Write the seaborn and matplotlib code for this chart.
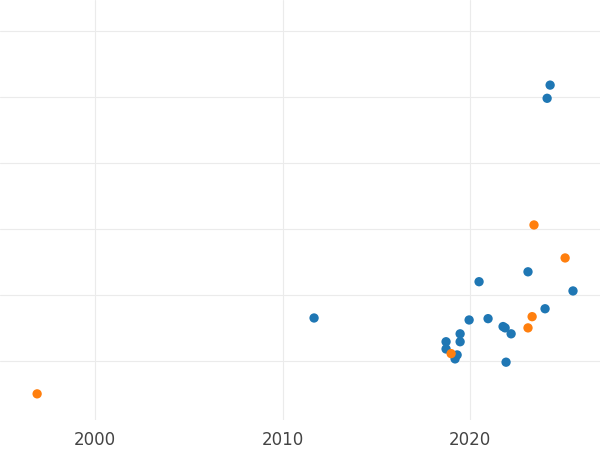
import matplotlib
matplotlib.use("Agg")
import pandas as pd
import matplotlib.pyplot as plt
import seaborn as sns

# values (y has no labels, arbitrary units)
blue_year = [2024.27, 2024.11, 2023.09, 2020.48, 2025.49, 2024.0, 2011.68, 2019.95, 2020.96,
             2021.76, 2021.87, 2022.19, 2019.47, 2018.72, 2019.47, 2018.72, 2019.31, 2019.2, 2021.92]
blue_val = [5.18, 4.98, 2.35, 2.20, 2.06, 1.79, 1.65, 1.62, 1.64,
            1.52, 1.50, 1.41, 1.41, 1.29, 1.29, 1.18, 1.09, 1.03, 0.98]
orange_year = [2023.41, 2025.07, 2023.31, 2023.09, 2018.99, 1996.91]
orange_val = [3.06, 2.56, 1.67, 1.50, 1.11, 0.50]

df = pd.DataFrame({
    "year": blue_year + orange_year,
    "value": blue_val + orange_val,
    "group": ["a"] * len(blue_year) + ["b"] * len(orange_year),
})

sns.set_style("whitegrid", {"grid.color": "#ebebeb"})
fig = plt.figure(figsize=(6, 4.5), dpi=100)
ax = fig.add_axes([0, 0.067, 1, 0.933])
sns.scatterplot(data=df, x="year", y="value", hue="group",
                palette={"a": "#1f77b4", "b": "#ff7f0e"},
                s=45, edgecolor="none", legend=False, ax=ax)

ax.set_xlim(1994.93, 2026.93)
ax.set_ylim(0.106, 6.47)
ax.set_xticks([2000, 2010, 2020])
ax.set_yticks([1, 2, 3, 4, 5, 6])
ax.set_yticklabels([])
ax.tick_params(axis="y", length=0)
ax.tick_params(axis="x", length=0, labelsize=12, labelcolor="#444444", pad=8)
ax.set_xlabel("")
ax.set_ylabel("")
for s in ax.spines.values():
    s.set_visible(False)

fig.savefig("out.png", dpi=100)
